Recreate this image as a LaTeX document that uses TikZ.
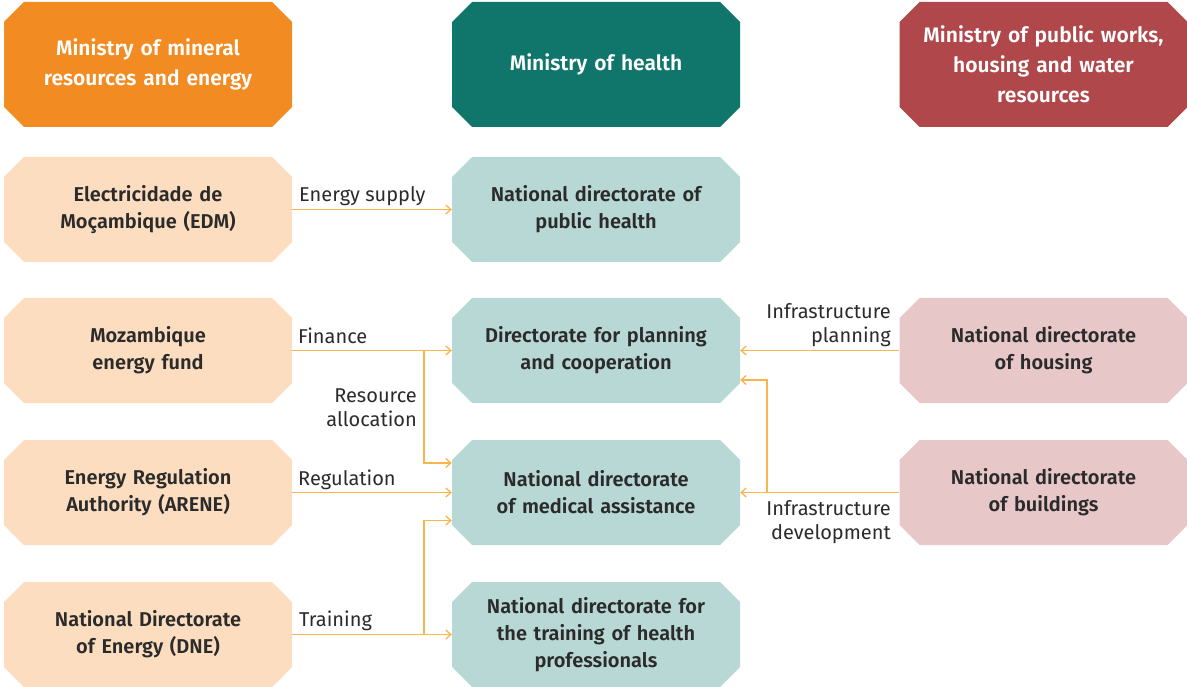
\documentclass[tikz,border=0pt]{standalone}
\usepackage{fontspec}
\setmainfont{Fira Sans}[BoldFont={Fira Sans SemiBold}]
\usetikzlibrary{arrows.meta,shapes.misc}

\definecolor{ink}{HTML}{2B2B2B}
\definecolor{flowline}{HTML}{F9B54C}
\definecolor{energyDark}{HTML}{F28C22}
\definecolor{energyLight}{HTML}{FCDDBF}
\definecolor{healthDark}{HTML}{10756A}
\definecolor{healthLight}{HTML}{B8D8D5}
\definecolor{worksDark}{HTML}{B0474A}
\definecolor{worksLight}{HTML}{E8C7C8}

\tikzset{
    org chart/.style = {x=1pt, y=-1pt,
                        >={Straight Barb[length=5pt, width=9pt]}},
    box/.style       = {chamfered rectangle,
                        chamfered rectangle xsep=10pt,
                        chamfered rectangle ysep=10pt,
                        minimum width=288pt, minimum height=105pt,
                        inner sep=0pt, text width=260pt, align=center,
                        text=ink, font=\bfseries\fontsize{20}{27}\selectfont},
    ministry/.style  = {box, minimum height=125pt, text=white,
                        font=\bfseries\fontsize{21}{30}\selectfont},
    flow/.style      = {draw=flowline, line width=1.3pt},
    flowlabel/.style = {text=ink, inner sep=0pt,
                        font=\fontsize{20}{24}\selectfont}
}

\begin{document}
\begin{tikzpicture}[org chart]
\useasboundingbox (0,0) rectangle (1187,687);

% ================= Ministries =================
\node[ministry, fill=energyDark] (mmre)  at (148,64.5)
    {Ministry of mineral\\resources and energy};
\node[ministry, fill=healthDark] (misau) at (596,64.5)
    {Ministry of health};
\node[ministry, fill=worksDark]  (mophrh) at (1043.5,64.5)
    {Ministry of public works,\\housing and water\\resources};

% ================= Energy sector (left column) =================
\node[box, fill=energyLight] (edm)   at (148,209.5)
    {Electricidade de\\Moçambique (EDM)};
\node[box, fill=energyLight] (fund)  at (148,350.5)
    {Mozambique\\energy fund};
\node[box, fill=energyLight] (arene) at (148,492.5)
    {Energy Regulation\\Authority (ARENE)};
\node[box, fill=energyLight] (dne)   at (148,634.5)
    {National Directorate\\of Energy (DNE)};

% ================= Health sector (middle column) =================
\node[box, fill=healthLight] (pubhealth) at (596,209.5)
    {National directorate of\\public health};
\node[box, fill=healthLight] (planning)  at (596,350.5)
    {Directorate for planning\\and cooperation};
\node[box, fill=healthLight] (medical)   at (596,492.5)
    {National directorate\\of medical assistance};
\node[box, fill=healthLight] (training)  at (596,634.5)
    {National directorate for\\the training of health\\professionals};

% ================= Public works (right column) =================
\node[box, fill=worksLight] (housing)   at (1043.5,350.5)
    {National directorate\\of housing};
\node[box, fill=worksLight] (buildings) at (1043.5,492.5)
    {National directorate\\of buildings};

% ================= Energy -> health links =================
\draw[flow, ->] (edm.east) -- (pubhealth.west);
\node[flowlabel, anchor=base west] (supplyLbl) at (299,202) {Energy supply};

\coordinate (financeSplit) at (424,350.5);
\draw[flow, ->] (fund.east) -- (planning.west);
\draw[flow, ->] (financeSplit) |- ([yshift=29.5pt]medical.west);
\node[flowlabel, anchor=base west] (financeLbl) at (298,343) {Finance};
% multi-line labels: base anchor sits on the last line
\node[flowlabel, anchor=base east, align=right] (allocLbl) at (417,426)
    {Resource\\allocation};

\draw[flow, ->] (arene.east) -- (medical.west);
\node[flowlabel, anchor=base west] (regLbl) at (298,485) {Regulation};

\coordinate (trainingSplit) at (424,634.5);
\draw[flow, ->] (dne.east) -- (training.west);
\draw[flow, ->] (trainingSplit) |- ([yshift=-28pt]medical.west);
\node[flowlabel, anchor=base west] (trainLbl) at (299,626) {Training};

% ================= Public works -> health links =================
\draw[flow, ->] (housing.west) -- (planning.east);
\node[flowlabel, anchor=base east, align=right] (infraPlanLbl) at (891,342)
    {Infrastructure\\planning};

\coordinate (devSplit) at (767,492.5);
\draw[flow, ->] (buildings.west) -- (medical.east);
\draw[flow, ->] (devSplit) |- ([yshift=-29.5pt]planning.east);
\node[flowlabel, anchor=base east, align=right] (infraDevLbl) at (891,539)
    {Infrastructure\\development};

\end{tikzpicture}
\end{document}
